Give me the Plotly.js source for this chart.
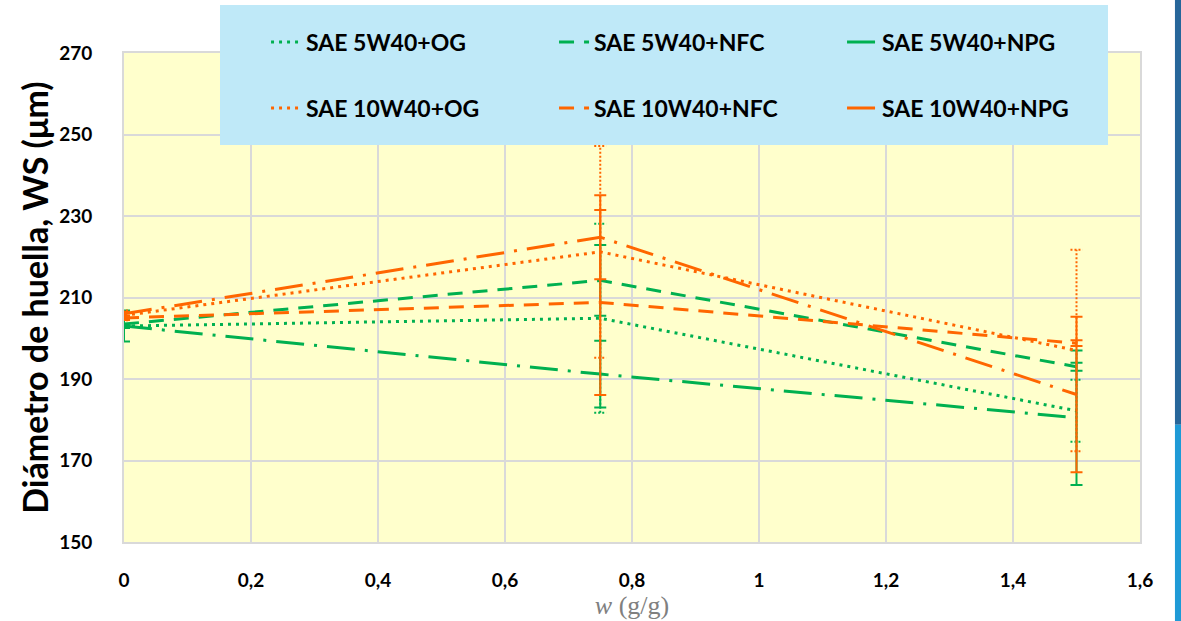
<!DOCTYPE html>
<html>
<head>
<meta charset="utf-8">
<script src="https://cdn.plot.ly/plotly-3.0.1.min.js"></script>
<style>html,body{margin:0;padding:0;background:#fff;}#chart{width:1181px;height:621px;}</style>
</head>
<body>
<div id="chart"></div>
<script>
// ---- data ----
const xValues = [0, 0.75, 1.5];

const names5 = ['SAE 5W40+OG', 'SAE 5W40+NFC', 'SAE 5W40+NPG'];
const names10 = ['SAE 10W40+OG', 'SAE 10W40+NFC', 'SAE 10W40+NPG'];

const og5 = [203, 204.9, 182.2];
const nfc5 = [203.5, 214.2, 193];
const npg5 = [203, 191.2, 180.5];
const og10 = [205.6, 221.2, 197];
const nfc10 = [205, 208.8, 198.8];
const npg10 = [206, 224.8, 186.2];

const og5Err = [0, 23.2, 7.6];
const nfc5Err = [1, 8.7, 1];
const npg5Err = [3.8, 8.2, 16.5];
const og10Err = [1.2, 26, 24.7];
const nfc10Err = [0.5, 22.7, 0.7];
const npg10Err = [0.5, 10.3, 19.1];

const xTicks = [0, 0.2, 0.4, 0.6, 0.8, 1, 1.2, 1.4, 1.6];
const yTicks = [150, 170, 190, 210, 230, 250, 270];

// ---- styles ----
const GREEN = '#00B050';
const ORANGE = '#FF6600';
const DOT = '3px,5px';
const DASH = '15px,10px';
const DASHDOT = '28px,10px,3px,10px';
const LW = 3;
const CAP = 0.0095; // half cap width in x units

function seriesTrace(name, y, err, color, dash, legend, native) {
  const t = {
    type: 'scatter', mode: 'lines', name: name, x: xValues, y: y,
    line: {color: color, width: LW, dash: dash},
    legend: legend
  };
  if (native) {
    t.error_y = {type: 'data', array: err, visible: true, color: color, thickness: 2, width: 6};
  }
  return t;
}

function dottedErr(y, err, color) {
  const ex = [], ey = [];
  for (let i = 0; i < xValues.length; i++) {
    if (err[i] <= 0) continue;
    const xv = xValues[i], lo = y[i] - err[i], hi = y[i] + err[i];
    ex.push(xv, xv, null, xv - CAP, xv + CAP, null, xv - CAP, xv + CAP, null);
    ey.push(lo, hi, null, lo, lo, null, hi, hi, null);
  }
  return {type: 'scatter', mode: 'lines', x: ex, y: ey, showlegend: false, hoverinfo: 'skip',
    line: {color: color, width: 2, dash: '2px,2px'}};
}

const traces = [
  dottedErr(og5, og5Err, GREEN),
  seriesTrace(names5[0], og5, og5Err, GREEN, DOT, 'legend', false),
  seriesTrace(names5[1], nfc5, nfc5Err, GREEN, DASH, 'legend', true),
  seriesTrace(names5[2], npg5, npg5Err, GREEN, DASHDOT, 'legend', true),
  dottedErr(og10, og10Err, ORANGE),
  seriesTrace(names10[0], og10, og10Err, ORANGE, DOT, 'legend2', false),
  seriesTrace(names10[1], nfc10, nfc10Err, ORANGE, DASH, 'legend2', true),
  seriesTrace(names10[2], npg10, npg10Err, ORANGE, DASHDOT, 'legend2', true)
];

const tickFont = {family: 'Lato, sans-serif', size: 19, color: '#000', weight: 'bold'};
const legFont = {family: 'Lato, sans-serif', size: 23, color: '#000', weight: 'bold'};

const legendBase = {
  orientation: 'h', xref: 'paper', yref: 'paper', xanchor: 'left', yanchor: 'middle',
  x: 0.1398, bgcolor: 'rgba(0,0,0,0)', borderwidth: 0, font: legFont,
  entrywidth: 243, entrywidthmode: 'pixels', traceorder: 'normal'
};

const layout = {
  width: 1181, height: 621,
  margin: {l: 124, r: 41, t: 53, b: 79, pad: 0},
  paper_bgcolor: '#ffffff',
  plot_bgcolor: '#FFFFCC',
  separators: ',.',
  showlegend: true,
  legend: Object.assign({}, legendBase, {y: 1.0225}),
  legend2: Object.assign({}, legendBase, {y: 0.8875}),
  xaxis: {
    range: [0, 1.6], tickvals: xTicks, showgrid: true, gridcolor: '#D9D9D9', gridwidth: 2,
    zeroline: false, showline: true, linecolor: '#D9D9D9', linewidth: 2, mirror: true,
    ticks: 'outside', ticklen: 20, tickcolor: 'rgba(0,0,0,0)', tickfont: tickFont,
    title: {text: '<i>w</i> (g/g)', font: {family: 'Liberation Serif, serif', size: 26, color: '#808080'}, standoff: 2}
  },
  yaxis: {
    range: [150, 270], tickvals: yTicks, showgrid: true, gridcolor: '#D9D9D9', gridwidth: 2,
    zeroline: false, showline: true, linecolor: '#D9D9D9', linewidth: 2, mirror: true,
    ticks: 'outside', ticklen: 26, tickcolor: 'rgba(0,0,0,0)', tickfont: tickFont,
    title: {text: 'Diámetro de huella, WS (μm)', font: {family: 'Lato, sans-serif', size: 34, color: '#000', weight: 'bold'}, standoff: 0}
  },
  shapes: [
    {type: 'rect', xref: 'paper', yref: 'paper', x0: 0.0945, x1: 0.9685, y0: 0.8119, y1: 1.0982,
      fillcolor: '#BFE9F8', line: {width: 0}, layer: 'above'},
    {type: 'rect', xref: 'paper', yref: 'paper', x0: 1.0344, x1: 1.05, y0: 0.24, y1: 1.2,
      fillcolor: '#27669A', line: {width: 0}, layer: 'above'},
    {type: 'rect', xref: 'paper', yref: 'paper', x0: 1.0344, x1: 1.05, y0: -0.2, y1: 0.24,
      fillcolor: '#1E9AD6', line: {width: 0}, layer: 'above'}
  ]
};

Plotly.newPlot('chart', traces, layout, {displayModeBar: false, staticPlot: true});
</script>
</body>
</html>
